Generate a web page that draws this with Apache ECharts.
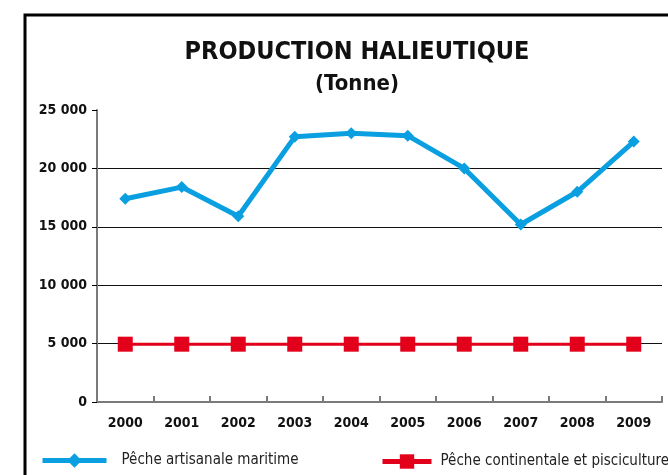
<!DOCTYPE html>
<html>
<head>
<meta charset="utf-8">
<script src="https://cdn.jsdelivr.net/npm/echarts@6/dist/echarts.min.js"></script>
<style>
html,body{margin:0;padding:0;background:#fff;}
#chart{width:668px;height:475px;}
</style>
</head>
<body>
<div id="chart"></div>
<script>
const titleText = 'PRODUCTION HALIEUTIQUE';
const subTitleText = '(Tonne)';
const years = ['2000','2001','2002','2003','2004','2005','2006','2007','2008','2009'];
const seriesNames = ['Pêche artisanale maritime', 'Pêche continentale et pisciculture'];
const maritime = [17400, 18400, 15900, 22700, 23000, 22800, 20000, 15200, 18000, 22300];
const continentale = [4950, 4950, 4950, 4950, 4950, 4950, 4950, 4950, 4950, 4950];
const yTicks = [0, 5000, 10000, 15000, 20000, 25000];

const FONT = "'Liberation Sans Narrow', 'DejaVu Sans Condensed', sans-serif";
const BLUE = '#0a9fe0';
const RED = '#e2001a';

const chart = echarts.init(document.getElementById('chart'), null, {renderer: 'canvas'});

function fmt(v) {
  const s = String(v);
  return s.replace(/\B(?=(\d{3})+(?!\d))/g, ' ');
}

chart.setOption({
  animation: false,
  backgroundColor: '#fff',
  graphic: [{
    type: 'rect',
    shape: {x: 25, y: 15, width: 700, height: 520},
    style: {fill: 'none', stroke: '#000', lineWidth: 3},
    silent: true
  }],
  title: {
    text: titleText,
    subtext: subTitleText,
    left: 352,
    top: 35,
    textAlign: 'center',
    itemGap: 8,
    textStyle: {fontFamily: FONT, fontSize: 25, fontWeight: 'bold', color: '#111'},
    subtextStyle: {fontFamily: FONT, fontSize: 22, fontWeight: 'bold', color: '#111'}
  },
  legend: [{
    data: [seriesNames[0]],
    left: 40,
    top: 453,
    padding: 0,
    itemWidth: 64,
    itemHeight: 18,
    lineStyle: {width: 5},
    textStyle: {fontFamily: FONT, fontSize: 15, color: '#222', padding: [0, 0, 0, 10]}
  }, {
    data: [seriesNames[1]],
    left: 380,
    top: 454,
    padding: 0,
    itemWidth: 49,
    itemHeight: 18,
    lineStyle: {width: 5},
    textStyle: {fontFamily: FONT, fontSize: 15, color: '#222', padding: [0, 0, 0, 4]}
  }],
  grid: {left: 97, right: 6, top: 110, bottom: 73, containLabel: false},
  xAxis: {
    type: 'category',
    data: years,
    boundaryGap: true,
    axisLine: {lineStyle: {color: '#7a7a7a', width: 2}},
    axisTick: {show: true, inside: true, length: 6, lineStyle: {color: '#7a7a7a', width: 2}},
    axisLabel: {interval: 0, fontFamily: FONT, fontSize: 14, fontWeight: 'bold', color: '#111', margin: 14}
  },
  yAxis: {
    type: 'value',
    min: yTicks[0],
    max: yTicks[yTicks.length - 1],
    interval: yTicks[1] - yTicks[0],
    axisLine: {show: true, lineStyle: {color: '#7a7a7a', width: 2}},
    axisTick: {show: true, length: 5, lineStyle: {color: '#000', width: 1}},
    axisLabel: {fontFamily: FONT, fontSize: 14, fontWeight: 'bold', color: '#111', margin: 10, formatter: fmt},
    splitLine: {show: true, lineStyle: {color: ['transparent', '#111', '#111', '#111', '#111', 'transparent'], width: 1.2}}
  },
  series: [{
    name: seriesNames[0],
    type: 'line',
    data: maritime,
    symbol: 'diamond',
    symbolSize: 12,
    lineStyle: {color: BLUE, width: 5},
    itemStyle: {color: BLUE},
    z: 3
  }, {
    name: seriesNames[1],
    type: 'line',
    data: continentale,
    symbol: 'rect',
    symbolSize: 15,
    lineStyle: {color: RED, width: 3},
    itemStyle: {color: RED},
    z: 4
  }]
});
</script>
</body>
</html>
